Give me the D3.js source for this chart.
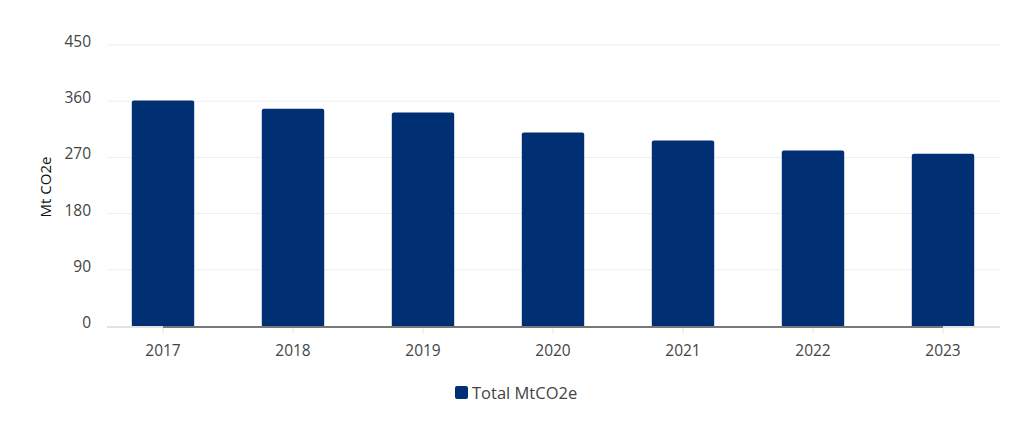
<!DOCTYPE html>
<html><head><meta charset="utf-8">
<script src="https://cdn.jsdelivr.net/npm/d3@7"></script>
<style>body{margin:0;background:#fff;} text{font-family:"Open Sans",sans-serif;}</style>
</head><body>
<svg id="c" width="1024" height="432"></svg>
<script>
const categories = ["2017","2018","2019","2020","2021","2022","2023"];
const values = [361, 348, 342, 310, 297, 281, 276];
const yTicks = [0, 90, 180, 270, 360, 450];
const seriesName = "Total MtCO2e";
const yTitle = "Mt CO2e";

const svg = d3.select("#c");
const color = "#012f73";
const x = d3.scaleBand().domain(categories).range([98, 1008]).paddingInner(0.52).paddingOuter(0.26);
const y = d3.scaleLinear().domain([0, 450]).range([326, 45]);

// gridlines
svg.append("g").selectAll("line").data(yTicks.slice(1)).join("line")
  .attr("x1", 107).attr("x2", 1000).attr("y1", d => y(d)).attr("y2", d => y(d))
  .attr("stroke", "#eeeeee").attr("stroke-width", 1);

// y labels
svg.append("g").selectAll("text").data(yTicks).join("text")
  .attr("x", 91).attr("y", d => y(d) + 2).attr("text-anchor", "end")
  .attr("font-size", 15.5).attr("fill", "#444").text(d => d);

// axis line light
svg.append("line").attr("x1", 107).attr("x2", 1000).attr("y1", y(0)+1).attr("y2", y(0)+1)
  .attr("stroke", "#e2e2e2").attr("stroke-width", 2);

// bars
svg.append("g").selectAll("path").data(categories).join("path")
  .attr("d", (c, i) => {
    const x0 = x(c), w = x.bandwidth(), y0 = y(values[i]), yb = y(0), r = 2;
    return `M${x0},${yb}V${y0+r}Q${x0},${y0} ${x0+r},${y0}H${x0+w-r}Q${x0+w},${y0} ${x0+w},${y0+r}V${yb}Z`;
  })
  .attr("fill", color);

// dark baseline between first and last centre
const c0 = x(categories[0]) + x.bandwidth()/2, c1 = x(categories[categories.length-1]) + x.bandwidth()/2;
svg.append("line").attr("x1", c0).attr("x2", c1).attr("y1", y(0)+1).attr("y2", y(0)+1)
  .attr("stroke", "#555").attr("stroke-width", 1.5);

// x ticks
svg.append("g").selectAll("line").data(categories).join("line")
  .attr("x1", c => x(c)+x.bandwidth()/2).attr("x2", c => x(c)+x.bandwidth()/2)
  .attr("y1", y(0)+2).attr("y2", y(0)+8).attr("stroke", "#e6e6e6");
svg.append("g").selectAll("text").data(categories).join("text")
  .attr("x", c => x(c)+x.bandwidth()/2).attr("y", 356).attr("text-anchor", "middle")
  .attr("font-size", 15.5).attr("fill", "#444").text(c => c);

// y title
svg.append("text").attr("transform", "translate(51,187) rotate(-90)").attr("text-anchor", "middle")
  .attr("font-size", 15).attr("fill", "#111").text(yTitle);

// legend
const lg = svg.append("g");
lg.append("rect").attr("x", 455).attr("y", 386).attr("width", 13).attr("height", 13).attr("rx", 2).attr("fill", color);
lg.append("text").attr("x", 472).attr("y", 398.5).attr("font-size", 16.5).attr("fill", "#444").text(seriesName);
</script>
</body></html>
